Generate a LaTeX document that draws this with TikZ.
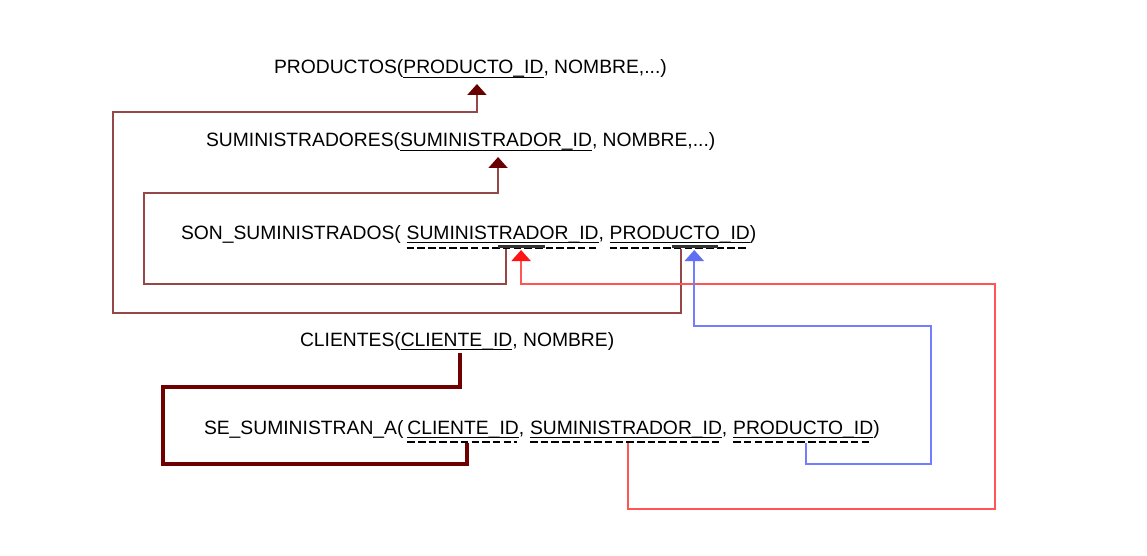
\documentclass[tikz,border=0pt]{standalone}
\usepackage{fontspec}
\setmainfont{Liberation Sans}
\usetikzlibrary{calc,arrows.meta}
\definecolor{brownln}{RGB}{150,72,72}
\definecolor{maroonhd}{RGB}{105,0,0}
\definecolor{thickln}{RGB}{110,0,0}
\definecolor{redln}{RGB}{255,85,85}
\definecolor{redhd}{RGB}{255,20,20}
\definecolor{blueln}{RGB}{115,125,255}
\definecolor{bluehd}{RGB}{95,110,245}
\tikzset{
  txt/.style={inner sep=0pt, outer sep=0pt, anchor=base west, font=\fontsize{19.3}{23}\selectfont},
  uline/.style={line width=1.3pt, black},
  dline/.style={line width=2.9pt, black, dash pattern=on 7.5pt off 3.2pt},
  barln/.style={line width=3pt, black!80},
  fkbrown/.style={line width=2pt, brownln, -{Triangle[width=19pt,length=11pt,color=maroonhd,fill=maroonhd]}},
  fkred/.style={line width=2pt, redln, -{Triangle[width=19pt,length=11pt,color=redhd,fill=redhd]}},
  fkblue/.style={line width=2pt, blueln, -{Triangle[width=19pt,length=11pt,color=bluehd,fill=bluehd]}},
  fkthick/.style={line width=3.8pt, thickln}
}
\begin{document}
\begin{tikzpicture}[x=1pt,y=-1pt]
\useasboundingbox[fill=white] (0,0) rectangle (1147,556);
% PRODUCTOS
\node[txt] (pA) at (274,74) {PRODUCTOS(};
\node[txt] (pB) at (pA.base east) {PRODUCTO\_ID};
\node[txt] (pC) at (pB.base east) {, NOMBRE,...)};
% SUMINISTRADORES
\node[txt] (uA) at (206,147) {SUMINISTRADORES(};
\node[txt] (uB) at (uA.base east) {SUMINISTRADOR\_ID};
\node[txt] (uC) at (uB.base east) {, NOMBRE,...)};
% SON_SUMINISTRADOS
\node[txt] (sA) at (181,239) {SON\_SUMINISTRADOS(\kern0.3em};
\node[txt] (sS) at (sA.base east) {SUMINISTRADOR\_ID};
\node[txt] (sM) at (sS.base east) {,\kern0.3em};
\node[txt] (sP) at (sM.base east) {PRODUCTO\_ID};
\node[txt] (sE) at (sP.base east) {)};
% CLIENTES
\node[txt] (cA) at (300,346) {CLIENTES(};
\node[txt] (cB) at (cA.base east) {CLIENTE\_ID};
\node[txt] (cC) at (cB.base east) {, NOMBRE)};
% SE_SUMINISTRAN_A
\node[txt] (eA) at (204,434) {SE\_SUMINISTRAN\_A(\kern0.2em};
\node[txt] (eC) at (eA.base east) {CLIENTE\_ID};
\node[txt] (eM1) at (eC.base east) {,\kern0.3em};
\node[txt] (eS) at (eM1.base east) {SUMINISTRADOR\_ID};
\node[txt] (eM2) at (eS.base east) {,\kern0.3em};
\node[txt] (eP) at (eM2.base east) {PRODUCTO\_ID};
\node[txt] (eE) at (eP.base east) {)};
% solid underlines
\foreach \n in {pB,uB,sS,sP,cB,eC,eS,eP}{
  \draw[uline] ($(\n.base west)+(0,3.2)$) -- ($(\n.base east)+(0,3.2)$);
}
% dashed underlines
\foreach \n in {sS,sP}{
  \draw[dline] ($(\n.base west)+(0,9)$) -- ($(\n.base east)+(-2,9)$);
}
\foreach \n in {eC,eS,eP}{
  \draw[dline] ($(\n.base west)+(0,8)$) -- ($(\n.base east)+(-2,8)$);
}
% bars at SON_SUMINISTRADOS
\draw[barln] ($(sS.base)+(-4.5,7.5)$) -- ($(sS.base)+(42.5,7.5)$);
\draw[barln] ($(sP.base)+(-7.5,7.5)$) -- ($(sP.base)+(38.5,7.5)$);
% FK connectors
\draw[fkbrown] ($(sP.base)+(1.5,10)$) |- (113,313) |- ($(pB.base)+(3.5,38)$) -- ($(pB.base)+(3.5,10)$);
\draw[fkbrown] ($(sS.base)+(3.5,10)$) |- (144,284) |- ($(uB.base)+(2,46)$) -- ($(uB.base)+(2,10)$);
\draw[fkred] ($(eS.base)+(2,9)$) |- (995,509) |- ($(sS.base)+(18.5,45)$) -- ($(sS.base)+(18.5,11)$);
\draw[fkblue] ($(eP.base)+(3,9)$) |- (931,464) |- ($(sP.base)+(14.5,87)$) -- ($(sP.base)+(14.5,11)$);
\draw[fkthick] ($(cB.base)+(3.5,7)$) |- (163,387) |- ($(eC.base)+(3.5,30)$) -- ($(eC.base)+(3.5,9)$);
\end{tikzpicture}
\end{document}
